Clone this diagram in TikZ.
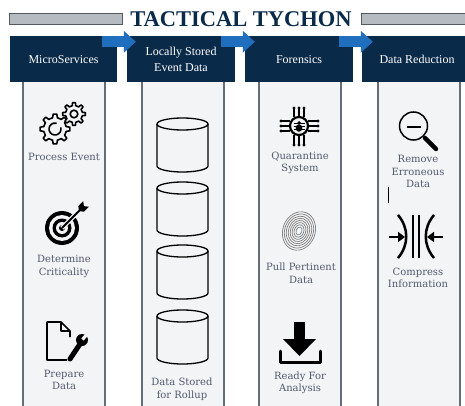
\documentclass[tikz,border=0pt]{standalone}
\usepackage{fontspec}
\setmainfont{Liberation Serif}
\newfontfamily\slabfont{DejaVu Serif}
\usetikzlibrary{arrows.meta}
\definecolor{navy}{RGB}{10,42,74}
\definecolor{flowblue}{RGB}{31,111,190}
\definecolor{barfill}{RGB}{182,187,193}
\definecolor{barline}{RGB}{85,88,92}
\definecolor{colfill}{RGB}{243,244,246}
\definecolor{colline}{RGB}{100,110,122}
\definecolor{slate}{RGB}{80,90,110}
\tikzset{
    headbox/.style={fill=navy, text=white, inner sep=0pt, minimum height=46pt,
        align=center, font=\fontsize{12}{16.5}\selectfont},
    colbox/.style={fill=colfill, draw=colline, line width=1.6pt},
    bar/.style={fill=barfill, draw=barline, line width=0.9pt},
    itemtext/.style={text=slate, inner sep=0pt, align=center,
        font=\slabfont\fontsize{10}{12.5}\selectfont},
    flowarrow/.style={draw=flowblue, line width=11pt,
        -{Triangle[length=12pt,width=22pt,line width=0pt,fill=flowblue]}},
    icon/.style={draw=black, line width=1.6pt, line join=round}
}
% gear outline: centre x, centre y, root radius, tip radius
\newcommand{\gearicon}[4]{%
    \begin{scope}[shift={(#1,#2)}]
    \draw[icon, fill=colfill] ({-12}:#3) \foreach \a in {0,45,...,315}
        { -- ({\a-12}:#3) -- ({\a-7}:#4) -- ({\a+7}:#4) -- ({\a+12}:#3) -- ({\a+33}:#3)} -- cycle;
    \end{scope}}

\begin{document}
\begin{tikzpicture}[x=1pt,y=-1pt]
    \useasboundingbox (0,0) rectangle (465,406);
    % title
    \draw[bar] (9,13) rectangle (122,24);
    \draw[bar] (361,13) rectangle (470,24);
    \node[text=navy, inner sep=0pt, font=\bfseries\fontsize{22.5}{24}\selectfont] (title) at (241,19) {TACTICAL TYCHON};
    % columns
    \foreach \x in {23,142,259,378}
        \draw[colbox] (\x,78) rectangle ++(82,335);
    % headers
    \node[headbox, minimum width=107pt] (micro) at (63.5,59.5) {MicroServices};
    \node[headbox, minimum width=108pt] (stored) at (181,59.5) {Locally Stored\\Event Data};
    \node[headbox, minimum width=108pt] (foren) at (299,59.5) {Forensics};
    \node[headbox, minimum width=110pt] (reduce) at (417,59.5) {Data Reduction};
    \draw[flowarrow] ([xshift=-15pt,yshift=-5.5pt]micro.north east) -- ([xshift=9pt,yshift=-5.5pt]stored.north west);
    \draw[flowarrow] ([xshift=-14pt,yshift=-5.5pt]stored.north east) -- ([xshift=10pt,yshift=-5.5pt]foren.north west);
    \draw[flowarrow] ([xshift=-14pt,yshift=-5.5pt]foren.north east) -- ([xshift=11pt,yshift=-5.5pt]reduce.north west);

    % MicroServices
    \gearicon{55}{129}{11.5}{15}
    \draw[icon] ([shift={(55,129)}]-15:6) arc[start angle=-15, end angle=285, radius=6];
    \gearicon{74}{114}{8.5}{11.5}
    \draw[icon] (74,114) circle[radius=3.8];
    \node[itemtext] (process) at (64,157) {Process Event};

    \fill (62,228) circle[radius=17];
    \fill[colfill] (62,228) circle[radius=13];
    \fill (62,228) circle[radius=9.5];
    \fill[colfill] (62,228) circle[radius=6];
    \fill (62,228) circle[radius=3];
    \draw[colfill, line width=4.5pt] (62,228) -- (80,210);
    \draw[line width=2pt] (62,228) -- (81,209);
    \fill (79,211) -- (83.9,211.7) -- (88.9,206.8) -- (83.9,206.1) -- (83.2,201.1) -- (78.3,206.1) -- cycle;
    \node[itemtext] (critical) at (64,266.5) {Determine\\Criticality};

    \draw[icon] (67,360) -- (47,360) -- (47,322) -- (61,322) -- (70,331) -- (70,337);
    \draw[icon] (61,322) -- (61,331) -- (70,331);
    \draw[line width=5pt, line cap=round] (70,359) -- (80,344);
    \fill (82,340) circle[radius=6];
    \draw[colfill, line width=3.2pt] (82.5,339.5) -- (88,333);
    \node[itemtext] (prepare) at (64,380) {Prepare\\Data};

    % Locally Stored Event Data
    \foreach \t in {118,182,245,310} {
        \draw[icon, line width=1.3pt] (157,\t+6) -- (157,\t+48) arc[start angle=180, end angle=0, x radius=25.5, y radius=6] -- (208,\t+6);
        \draw[icon, line width=1.3pt] (182.5,\t+6) ellipse[x radius=25.5, y radius=6];
    }
    \node[itemtext] (rollup) at (182,389) {Data Stored\\for Rollup};

    % Forensics
    \draw[line width=2.2pt] (299,126) circle[radius=9];
    \fill (299,128) ellipse[x radius=3.3, y radius=3.8];
    \fill (299,122.8) circle[radius=1.8];
    \foreach \dy in {-2.5,0.5,3.5} {
        \draw[line width=0.8pt] (293.5,126+\dy) -- (304.5,126+\dy);
    }
    \foreach \dx in {-5,0,5} {
        \draw[line width=1.2pt] (299+\dx,117) -- (299+\dx,108);
        \fill (299+\dx,108) circle[radius=1.6];
        \draw[line width=1.2pt] (299+\dx,135) -- (299+\dx,145);
        \fill (299+\dx,145) circle[radius=1.6];
    }
    \foreach \dy in {-5,0,5} {
        \draw[line width=1.2pt] (290,126+\dy) -- (281,126+\dy);
        \fill (281,126+\dy) circle[radius=1.6];
        \draw[line width=1.2pt] (308,126+\dy) -- (318,126+\dy);
        \fill (318,126+\dy) circle[radius=1.6];
    }
    \node[itemtext] (quarantine) at (300,163) {Quarantine\\System};

    \foreach \i in {1,...,8}
        \draw[gray, line width=0.7pt, rotate around={-20:(299,231)}] (299,231) ellipse[x radius=1+1.9*\i, y radius=2+2.2*\i];
    \node[itemtext] (pull) at (301,273.5) {Pull Pertinent\\Data};

    \fill (294,322) rectangle (305,341);
    \fill (283,339) -- (316,339) -- (299.5,356) -- cycle;
    \draw[line width=3pt, line cap=round, line join=round] (280,351) -- (280,362) -- (320,362) -- (320,351);
    \node[itemtext] (ready) at (300,383) {Ready For\\Analysis};

    % Data Reduction
    \draw[line width=1.5pt] (413.5,126) circle[radius=14];
    \draw[line width=1.5pt] (407,127) -- (421,127);
    \draw[line width=4.5pt, line cap=round] (425,138) -- (436,149);
    \node[itemtext] (remove) at (418,171.5) {Remove\\Erroneous\\Data};
    \draw[line width=0.8pt] (388,187) -- (388,203);

    \draw[line width=2.5pt] (398,215) .. controls (409,228) and (409,245) .. (398,258);
    \draw[line width=2.5pt] (434,215) .. controls (423,228) and (423,245) .. (434,258);
    \draw[line width=2.5pt] (413,215) -- (413,258);
    \draw[line width=2.5pt] (419,215) -- (419,258);
    \draw[line width=2.5pt, -{Triangle[length=7pt,width=10pt]}] (389,237) -- (405,237);
    \draw[line width=2.5pt, -{Triangle[length=7pt,width=10pt]}] (443,237) -- (427,237);
    \node[itemtext] (compress) at (418,278) {Compress\\Information};
\end{tikzpicture}
\end{document}
